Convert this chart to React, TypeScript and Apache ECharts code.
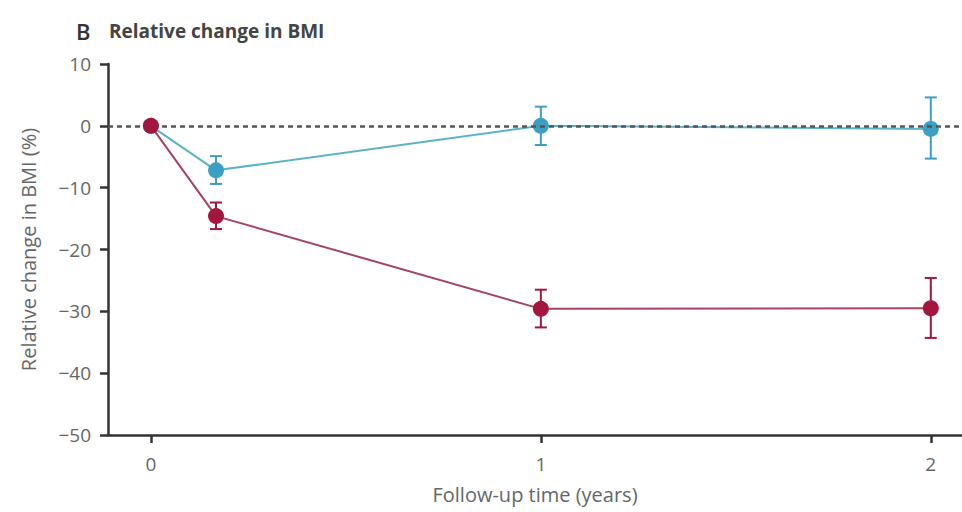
import React, { useEffect, useRef } from "react";
import * as echarts from "echarts";

const timeYears = [0, 0.167, 1, 2];
const xTicks = [0, 1, 2];

const tealMean = [0, -7.2, 0, -0.5];
const tealLow = [0, -9.4, -3.1, -5.3];
const tealHigh = [0, -4.9, 3.1, 4.6];

const redMean = [0, -14.6, -29.6, -29.5];
const redLow = [0, -16.7, -32.6, -34.3];
const redHigh = [0, -12.4, -26.5, -24.6];

const TEAL = "#3d9fc1";
const TEAL_LINE = "#5cb3c8";
const RED = "#a3163d";
const RED_LINE = "#a6435e";
const FONT = "Open Sans";

function errorSeries(name: string, low: number[], high: number[], color: string) {
  const data = timeYears.map((x, i) => [x, low[i], high[i]]).filter((d, i) => i > 0);
  return {
    type: "custom",
    name,
    z: 3,
    data,
    encode: { x: 0, y: [1, 2] },
    renderItem: (params: any, api: any) => {
      const x = api.value(0);
      const lo = api.coord([x, api.value(1)]);
      const hi = api.coord([x, api.value(2)]);
      const w = 6;
      const style = { stroke: color, lineWidth: 2 };
      return {
        type: "group",
        children: [
          { type: "line", shape: { x1: lo[0], y1: lo[1], x2: hi[0], y2: hi[1] }, style },
          { type: "line", shape: { x1: lo[0] - w, y1: lo[1], x2: lo[0] + w, y2: lo[1] }, style },
          { type: "line", shape: { x1: hi[0] - w, y1: hi[1], x2: hi[0] + w, y2: hi[1] }, style },
        ],
      };
    },
  };
}

export default function App() {
  const ref = useRef<HTMLDivElement>(null);
  useEffect(() => {
    document.body.style.margin = "0";
    if (!ref.current) return;
    const chart = echarts.init(ref.current, null, { renderer: "svg" });
    chart.setOption({
      animation: false,
      backgroundColor: "#ffffff",
      textStyle: { fontFamily: FONT },
      graphic: [
        { type: "text", left: 76, top: 20, style: { text: "B", fontFamily: FONT, fontSize: 22, fontWeight: 600, fill: "#333" } },
        { type: "text", left: 109, top: 21, style: { text: "Relative change in BMI", fontFamily: FONT, fontSize: 19, fontWeight: "bold", fill: "#444" } },
      ],
      grid: { left: 108, right: 0, top: 64, bottom: 77, containLabel: false },
      xAxis: {
        type: "value",
        min: -0.11,
        max: 2.08,
        name: "Follow-up time (years)",
        nameLocation: "middle",
        nameGap: 49,
        nameTextStyle: { color: "#666", fontSize: 20, fontFamily: FONT },
        splitLine: { show: false },
        axisLine: { onZero: false, lineStyle: { color: "#333", width: 2.5 } },
        axisTick: { show: true, customValues: xTicks, length: 8, lineStyle: { color: "#333", width: 2.5 } },
        axisLabel: { customValues: xTicks, color: "#666", fontSize: 19, margin: 19, fontFamily: FONT },
      },
      yAxis: {
        type: "value",
        min: -50,
        max: 10,
        interval: 10,
        name: "Relative change in BMI (%)",
        nameLocation: "middle",
        nameGap: 70,
        nameRotate: 90,
        nameTextStyle: { color: "#666", fontSize: 20, fontFamily: FONT },
        splitLine: { show: false },
        axisLine: { show: true, onZero: false, lineStyle: { color: "#333", width: 2.5 } },
        axisTick: { show: true, length: 8, lineStyle: { color: "#333", width: 2.5 } },
        axisLabel: {
          color: "#666",
          fontSize: 19,
          margin: 17,
          fontFamily: FONT,
          formatter: (v: number) => (v < 0 ? "\u2212" + Math.abs(v) : String(v)),
        },
      },
      series: [
        {
          type: "line",
          name: "zero",
          data: [],
          markLine: {
            silent: true,
            symbol: "none",
            label: { show: false },
            lineStyle: { color: "#555", width: 2.5, type: [5, 4] },
            data: [{ yAxis: 0 }],
          },
          z: 1,
        },
        errorSeries("teal-err", tealLow, tealHigh, TEAL),
        {
          type: "line",
          name: "teal",
          z: 4,
          data: timeYears.map((x, i) => [x, tealMean[i]]),
          symbol: "circle",
          symbolSize: 16,
          lineStyle: { color: TEAL_LINE, width: 2 },
          itemStyle: { color: TEAL },
        },
        errorSeries("red-err", redLow, redHigh, RED),
        {
          type: "line",
          name: "red",
          z: 5,
          data: timeYears.map((x, i) => [x, redMean[i]]),
          symbol: "circle",
          symbolSize: 16,
          lineStyle: { color: RED_LINE, width: 2 },
          itemStyle: { color: RED },
        },
      ],
    });
    return () => chart.dispose();
  }, []);
  return <div ref={ref} style={{ width: 962, height: 512 }} />;
}
